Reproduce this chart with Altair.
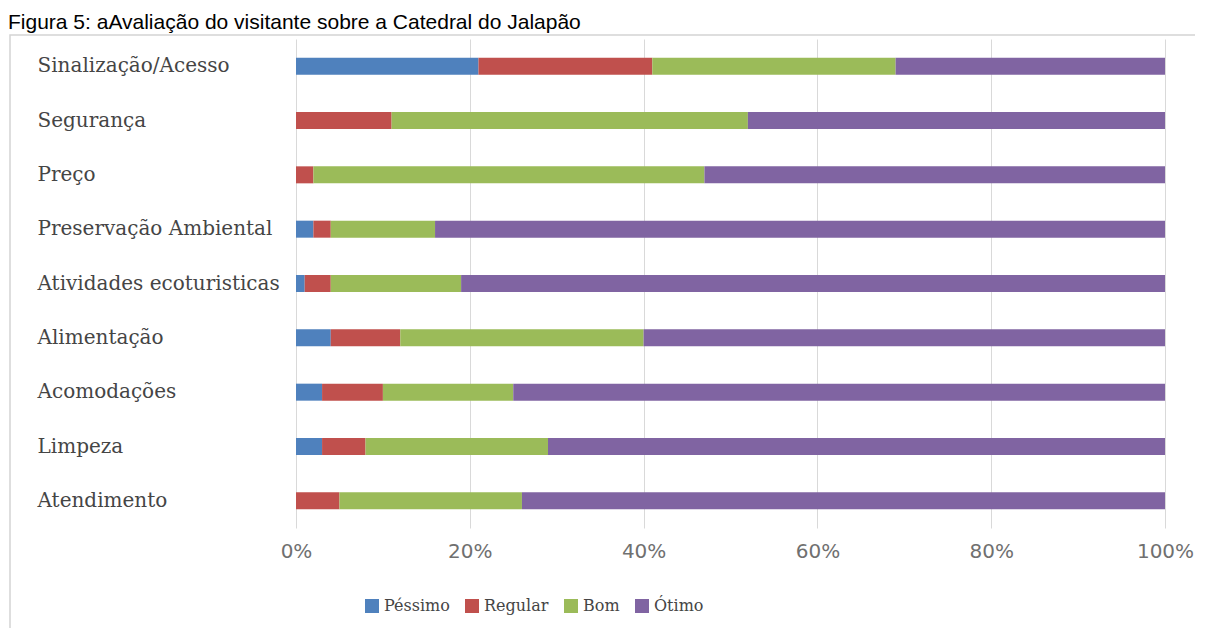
import altair as alt
import pandas as pd

categories = ["Sinalização/Acesso", "Segurança", "Preço", "Preservação Ambiental",
              "Atividades ecoturisticas", "Alimentação", "Acomodações", "Limpeza", "Atendimento"]
series = ["Péssimo", "Regular", "Bom", "Ótimo"]
pessimo = [21, 0, 0, 2, 1, 4, 3, 3, 0]
regular = [20, 11, 2, 2, 3, 8, 7, 5, 5]
bom = [28, 41, 45, 12, 15, 28, 15, 21, 21]
otimo = [31, 48, 53, 84, 81, 60, 75, 71, 74]
colors = ["#4F81BD", "#C0504D", "#9BBB59", "#8064A2"]
tick_values = [0, 0.2, 0.4, 0.6, 0.8, 1.0]
title_text = "Figura 5: aAvaliação do visitante sobre a Catedral do Jalapão"

rows = []
for i, s in enumerate(series):
    vals = [pessimo, regular, bom, otimo][i]
    for c, v in zip(categories, vals):
        rows.append({"cat": c, "serie": s, "ord": i, "val": v})
df = pd.DataFrame(rows)

W, H = 869, 489

frame = alt.Chart(pd.DataFrame({"a": [0]})).mark_rect(
    filled=False, stroke="#d4d4d4", strokeWidth=1.5
).encode(
    x=alt.value(-286), x2=alt.value(960), y=alt.value(-4), y2=alt.value(640)
)

title = alt.Chart(pd.DataFrame({"t": [title_text]})).mark_text(
    align="left", baseline="alphabetic", font="Liberation Sans", fontSize=21, color="#000000"
).encode(x=alt.value(-288), y=alt.value(-10), text="t:N")

bars = alt.Chart(df).mark_bar(size=17).encode(
    y=alt.Y("cat:N", sort=categories,
            scale=alt.Scale(paddingInner=0, paddingOuter=0),
            axis=alt.Axis(title=None, labelAlign="left", labelPadding=259, ticks=False,
                          domain=False, labelFont="DejaVu Serif", labelFontSize=20,
                          labelColor="#454545", labelLimit=300)),
    x=alt.X("val:Q", stack="normalize",
            scale=alt.Scale(domain=[0, 1], nice=False),
            axis=alt.Axis(title=None, format="%", values=tick_values, grid=True,
                          gridColor="#d9d9d9", domain=False, ticks=False,
                          labelFont="DejaVu Sans", labelFontSize=20, labelColor="#707070",
                          labelPadding=13, labelFlush=False)),
    color=alt.Color("serie:N", sort=series,
                    scale=alt.Scale(domain=series, range=colors),
                    legend=alt.Legend(title=None, orient="none", legendX=68, legendY=559,
                                      direction="horizontal", symbolType="square",
                                      symbolSize=196, symbolStrokeWidth=0,
                                      labelFont="DejaVu Serif", labelFontSize=16,
                                      labelColor="#454545", columnPadding=14,
                                      labelOffset=4)),
    order=alt.Order("ord:Q"),
)

chart = alt.layer(frame, title, bars).properties(
    width=W, height=H,
    autosize=alt.AutoSizeParams(type="none"),
    padding={"left": 288, "top": 31, "right": 30, "bottom": 100},
).configure_view(stroke=None)

chart.save("out.html", embed_options={"renderer": "svg", "actions": False})
